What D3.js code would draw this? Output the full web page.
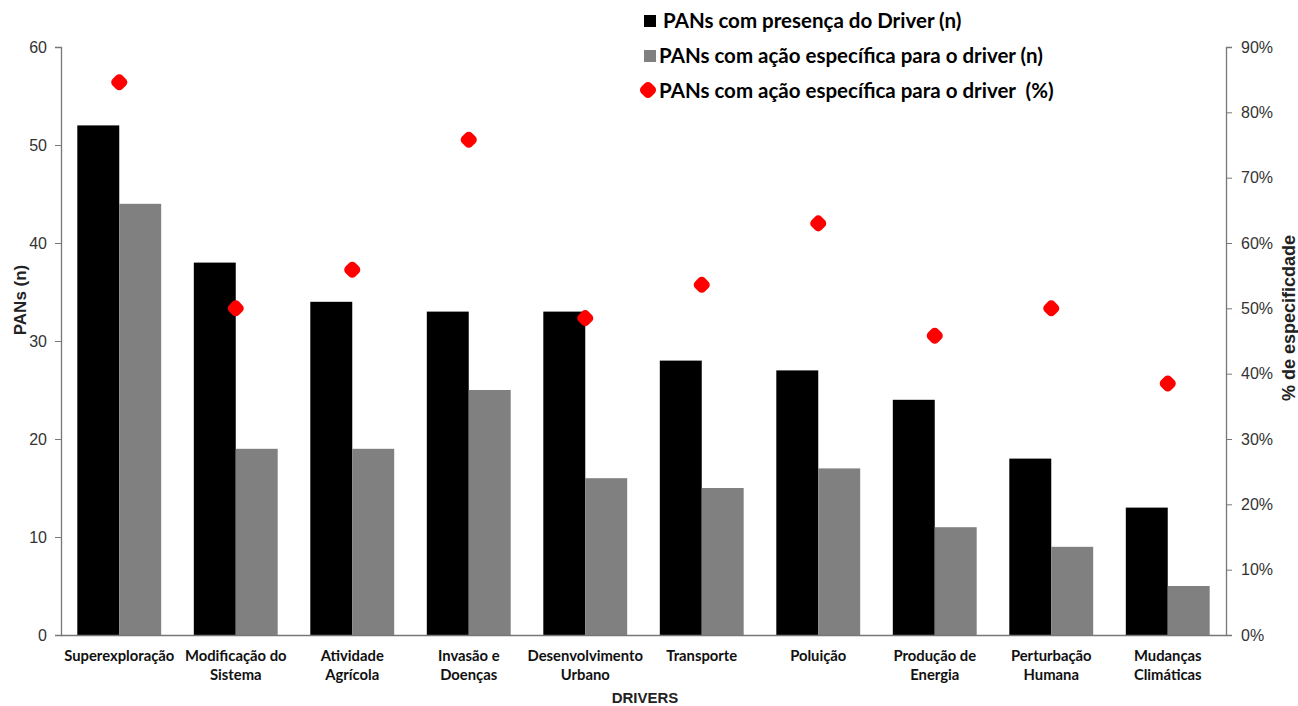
<!DOCTYPE html>
<html><head><meta charset="utf-8">
<script src="https://cdn.jsdelivr.net/npm/d3@7"></script>
<style>
body{margin:0;background:#fff}
svg text{font-family:"Liberation Sans",Arial,sans-serif}
.cat{font-family:Lato,"Open Sans",sans-serif;font-weight:700;font-size:14.8px;fill:#111}
.leg{font-family:Lato,"Open Sans",sans-serif;font-weight:700;font-size:20.5px;fill:#000}
.tick text{font-family:"Liberation Sans",Arial,sans-serif;font-size:16px;fill:#333}
</style></head>
<body><svg id="c" width="1298" height="706"></svg>
<script>
// Threat categories (drivers) with line breaks for the axis labels
const drivers = ["Superexploração","Modificação do|Sistema","Atividade|Agrícola","Invasão e|Doenças","Desenvolvimento|Urbano","Transporte","Poluição","Produção de|Energia","Perturbação|Humana","Mudanças|Climáticas"];
// PANs in which the driver is present (n)
const presence = [52,38,34,33,33,28,27,24,18,13];
// PANs with a specific action for the driver (n)
const specific = [44,19,19,25,16,15,17,11,9,5];
// Share of PANs with a specific action (%)
const specificPct = [84.6,50.0,55.9,75.8,48.5,53.6,63.0,45.8,50.0,38.5];
const leftTicks = [0,10,20,30,40,50,60];
const rightTicks = [0,10,20,30,40,50,60,70,80,90];

const svg = d3.select("#c");
const L = 61, R = 1226, T = 47, B = 635;

const x = d3.scaleBand().domain(drivers).range([L, R]).paddingInner(0.28).paddingOuter(0.14);
const yL = d3.scaleLinear().domain([0,60]).range([B,T]);
const yR = d3.scaleLinear().domain([0,90]).range([B,T]);
const half = x.bandwidth()/2;

// bars
const g = svg.append("g");
g.selectAll("rect.p").data(drivers).join("rect")
  .attr("x", d=>x(d)).attr("y",(d,i)=>yL(presence[i]))
  .attr("width", half).attr("height",(d,i)=>B-yL(presence[i])).attr("fill","#000");
g.selectAll("rect.s").data(drivers).join("rect")
  .attr("x", d=>x(d)+half).attr("y",(d,i)=>yL(specific[i]))
  .attr("width", half).attr("height",(d,i)=>B-yL(specific[i])).attr("fill","#808080");

// axes
const axColor = "#777";
const la = svg.append("g").attr("transform",`translate(${L},0)`)
  .call(d3.axisLeft(yL).tickValues(leftTicks).tickSize(6).tickPadding(8));
const ra = svg.append("g").attr("transform",`translate(${R},0)`)
  .call(d3.axisRight(yR).tickValues(rightTicks).tickSize(6).tickPadding(9).tickFormat(d=>d+"%"));
[la,ra].forEach(a=>{
  a.attr("font-family","Liberation Sans").attr("font-size",16);
  a.select(".domain").attr("stroke",axColor).attr("stroke-width",1.3);
  a.selectAll(".tick line").attr("stroke",axColor);
});
svg.append("line").attr("x1",L).attr("x2",R).attr("y1",B+0.5).attr("y2",B+0.5).attr("stroke",axColor).attr("stroke-width",1.3);

// rounded diamond marker
function diamond(sel){
  sel.append("rect").attr("x",-7).attr("y",-7).attr("width",14).attr("height",14)
    .attr("rx",4.5).attr("transform","rotate(45)").attr("fill","#ff0000");
}
svg.append("g").selectAll("g").data(drivers).join("g")
  .attr("transform",(d,i)=>`translate(${x(d)+half},${yR(specificPct[i])})`)
  .call(diamond);

// category labels
drivers.forEach(d=>{
  const lines = d.split("|");
  const t = svg.append("text").attr("class","cat").attr("text-anchor","middle")
    .attr("x", x(d)+half).attr("y", 661);
  lines.forEach((s,k)=>t.append("tspan").attr("x",x(d)+half).attr("dy",k?19:0).text(s));
});

// axis titles
svg.append("text").attr("x",645).attr("y",703).attr("text-anchor","middle")
  .attr("font-weight","bold").attr("font-size",15).attr("fill","#222").text("DRIVERS");
svg.append("text").attr("transform","translate(26,300) rotate(-90)").attr("text-anchor","middle")
  .attr("font-weight","bold").attr("font-size",17).attr("fill","#222").text("PANs (n)");
svg.append("text").attr("transform","translate(1295,318) rotate(-90)").attr("text-anchor","middle")
  .attr("font-weight","bold").attr("font-size",18).attr("fill","#222").text("% de especificdade");

// legend
const leg = svg.append("g");
leg.append("rect").attr("x",644).attr("y",15).attr("width",12).attr("height",12).attr("fill","#000");
leg.append("text").attr("class","leg").attr("x",663).attr("y",28).text("PANs com presença do Driver (n)");
leg.append("rect").attr("x",644).attr("y",50).attr("width",12).attr("height",12).attr("fill","#808080");
leg.append("text").attr("class","leg").attr("x",659).attr("y",63).text("PANs com ação específica para o driver (n)");
leg.append("g").attr("transform","translate(648,90)").call(diamond);
leg.append("text").attr("class","leg").attr("x",659).attr("y",98).attr("xml:space","preserve").text("PANs com ação específica para o driver  (%)");
</script></body></html>
